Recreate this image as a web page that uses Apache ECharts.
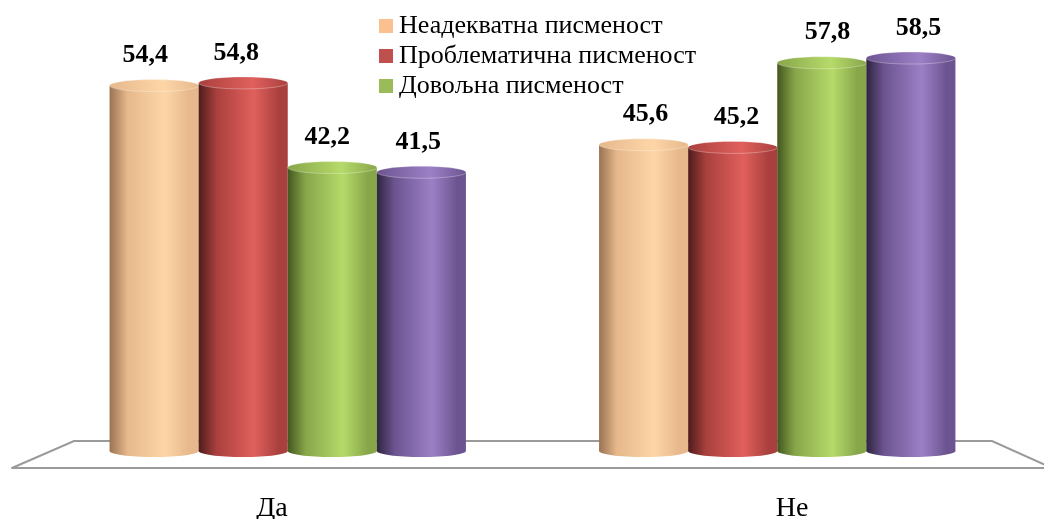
<!DOCTYPE html>
<html>
<head>
<meta charset="utf-8">
<script src="https://cdn.jsdelivr.net/npm/echarts@6/dist/echarts.min.js"></script>
<style>
  html, body { margin: 0; padding: 0; background: #fff; }
  #main { width: 1044px; height: 519px; }
</style>
</head>
<body>
<div id="main"></div>
<script>
var categories = ['Да', 'Не']
var seriesNames = ['Неадекватна писменост', 'Проблематична писменост', 'Довољна писменост', 'Висока писменост']
var inadequate = [54.4, 45.6]
var problematic = [54.8, 45.2]
var sufficient = [42.2, 57.8]
var high = [41.5, 58.5]
var values = [inadequate, problematic, sufficient, high]

// boja: [tamna ivica, srednja, svetla, legenda]
var palette = [
  ['#9a7352', '#e6b88c', '#fdd6a8', '#fac090'],
  ['#4f1c1b', '#a9403d', '#e0605d', '#c0504d'],
  ['#44571f', '#87a64a', '#b6da6a', '#9bbb59'],
  ['#2f2440', '#6c5490', '#9c80c6', '#8064a2']
]

function bodyGrad(p) {
  return new echarts.graphic.LinearGradient(0, 0, 1, 0, [
    { offset: 0, color: p[0] },
    { offset: 0.2, color: p[1] },
    { offset: 0.62, color: p[2] },
    { offset: 0.9, color: p[1] },
    { offset: 1, color: p[1] }
  ])
}

function topGrad(p) {
  return new echarts.graphic.LinearGradient(0, 0, 1, 0, [
    { offset: 0, color: p[1] },
    { offset: 0.6, color: p[2] },
    { offset: 1, color: p[1] }
  ])
}

function makeRender(s) {
  return function (params, api) {
    var cat = api.value(0)
    var val = api.value(1)
    var top = api.coord([cat, val])
    var base = api.coord([cat, 0])
    var band = api.size([1, 0])[0]
    var w = band * 0.182
    var cx = top[0] + (s - 1.5) * w
    var ry = 6
    var p = palette[s]
    // natpisi malo "beze" od sredine (perspektiva)
    var lx = cx + (cx - 560) * 0.022
    return {
      type: 'group',
      children: [
        {
          type: 'ellipse',
          shape: { cx: cx, cy: base[1], rx: w / 2, ry: ry },
          style: { fill: bodyGrad(p) }
        },
        {
          type: 'rect',
          shape: { x: cx - w / 2, y: top[1], width: w, height: base[1] - top[1] },
          style: { fill: bodyGrad(p) }
        },
        {
          type: 'ellipse',
          shape: { cx: cx, cy: top[1], rx: w / 2, ry: ry },
          style: { fill: topGrad(p), stroke: 'rgba(255,255,255,0.3)', lineWidth: 1 }
        },
        {
          type: 'text',
          x: lx,
          y: top[1] - ry - 11,
          style: {
            text: String(val).replace('.', ','),
            align: 'center',
            verticalAlign: 'bottom',
            font: 'bold 26px "Liberation Serif", serif',
            fill: '#000'
          }
        }
      ]
    }
  }
}

var chart = echarts.init(document.getElementById('main'))

var series = values.map(function (arr, s) {
  return {
    name: seriesNames[s],
    type: 'custom',
    xAxisIndex: 0,
    yAxisIndex: 0,
    itemStyle: { color: palette[s][3] },
    renderItem: makeRender(s),
    data: arr.map(function (v, i) { return [i, v] })
  }
})

var option = {
  animation: false,
  legend: {
    data: seriesNames.slice(0, 3),
    orient: 'vertical',
    left: 374,
    top: 8,
    icon: 'rect',
    itemWidth: 14,
    itemHeight: 14,
    itemGap: 4,
    textStyle: { fontFamily: 'Liberation Serif', fontSize: 26, color: '#000', padding: [0, 0, 0, 1] }
  },
  graphic: [
    {
      type: 'polyline',
      shape: { points: [[12, 468], [74, 441], [992, 441], [1052, 468]] },
      style: { stroke: '#9a9a9a', lineWidth: 2, fill: null },
      z: -1
    }
  ],
  grid: [
    { left: 43, width: 979, top: 48, height: 403, outerBoundsMode: 'none' },
    { left: 12, width: 1040, top: 43, height: 425, outerBoundsMode: 'none' }
  ],
  xAxis: [
    { type: 'category', gridIndex: 0, data: categories, show: false },
    {
      type: 'category',
      gridIndex: 1,
      data: categories,
      axisLine: { lineStyle: { color: '#9a9a9a', width: 2 } },
      axisTick: { length: 9, lineStyle: { color: '#9a9a9a', width: 2 } },
      axisLabel: { fontFamily: 'Liberation Serif', fontSize: 28, color: '#000', margin: 27 }
    }
  ],
  yAxis: [
    { type: 'value', gridIndex: 0, min: 0, max: 60, show: false },
    { type: 'value', gridIndex: 1, show: false }
  ],
  series: series
}

chart.setOption(option)
</script>
</body>
</html>
